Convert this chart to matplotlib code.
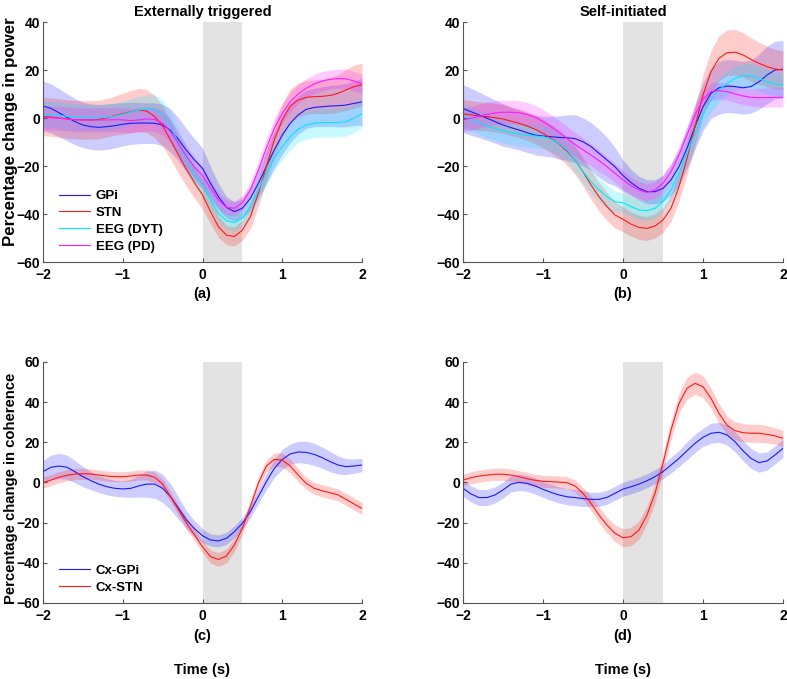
import numpy as np
import matplotlib
matplotlib.use("Agg")
import matplotlib.pyplot as plt

plt.rcParams["font.family"] = ["Liberation Sans", "DejaVu Sans"]
plt.rcParams["font.weight"] = "bold"

# time grid shared by all series (s), 0.1 s steps from -2 to 2
t = np.linspace(-2.0, 2.0, 41)

# (a) externally triggered, power: mean and half-width of shaded band
a_gpi = [5.0, 4.0, 2.2, 0.3, -1.5, -2.9, -3.6, -3.9, -3.6, -3.2, -2.6, -2.2, -2.1, -2.1, -2.2, -2.9,
         -5.2, -9.0, -13.5, -17.5, -21.0, -27.2, -32.8, -37.2, -39.0, -37.6, -33.5, -27.2, -20.3, -13.3,
         -7.1, -2.2, 1.3, 3.6, 4.4, 4.7, 5.0, 5.1, 5.4, 6.1, 6.7]
a_gpi_hw = [10.4, 10.2, 10, 9.8, 9.6, 9.5, 9.5, 9.5, 9.5, 9.3, 9, 8.8, 8.6, 8.5, 8.5, 8.7,
            9, 9, 9, 8.8, 8.5, 7, 5.5, 4.5, 4, 4.2, 5, 6, 7, 7.5, 8, 8, 8, 8, 8, 8.3,
            8.5, 8.8, 9, 9.3, 9.7]
a_stn = [0.6, 0.4, 0.0, -0.4, -0.7, -0.8, -0.8, -0.6, 0.1, 1.0, 1.8, 2.6, 3.3, 2.9, 0.6, -3.3,
         -9.2, -15.5, -21.5, -27.0, -32.0, -39.0, -45.3, -48.8, -49.4, -46.7, -41.1, -31.4, -20.3, -9.2,
         -0.8, 5.0, 7.5, 8.6, 8.9, 9.0, 9.4, 10.3, 11.7, 13.1, 13.8]
a_stn_hw = [8, 8, 8, 8, 8, 8, 8, 8, 8, 8.2, 8.5, 8.8, 9, 9, 8.8, 8.5,
            8, 7.5, 7, 6.5, 6, 5, 4.5, 4, 4, 4.2, 5, 5.5, 6, 6.5, 7, 7, 7, 7, 7, 7.2,
            7.5, 8, 8.5, 9, 9]
a_dyt = [1.5, 1.4, 1.1, 0.7, 0.4, 0.3, 0.1, 0.1, 0.3, 0.8, 1.5, 2.5, 3.3, 3.8, 3.6, 1.5,
         -3.6, -10.6, -17.5, -23.5, -28.0, -34.2, -39.7, -42.8, -43.6, -41.8, -36.9, -30.0, -23.0, -16.8,
         -11.9, -7.8, -4.7, -2.9, -2.2, -1.9, -1.9, -1.9, -1.5, -0.1, 1.9]
a_dyt_hw = [5.5, 5.5, 5.5, 5.5, 5.5, 5.5, 5.5, 5.5, 5.5, 5.5, 5.5, 5.5, 5.8, 6, 6, 6,
            6, 5.8, 5.5, 5, 4.5, 4, 3.5, 3.5, 3.5, 3.5, 4, 4.5, 5, 5, 5.5, 5.5, 5.5, 5.8, 6, 6,
            6, 6, 6, 6, 6]
a_pd = [0.3, 0.1, -0.1, -0.4, -0.7, -0.8, -0.8, -0.8, -0.8, -0.7, -0.8, -1.1, -0.8, -0.4, -0.6, -2.2,
        -5.7, -10.8, -16.1, -20.5, -24.0, -29.3, -34.2, -37.2, -37.6, -35.3, -30.0, -21.7, -12.6, -4.3,
        1.9, 6.8, 10.0, 12.4, 14.2, 15.4, 16.1, 16.4, 16.3, 15.4, 14.2]
a_pd_hw = [5, 5, 5, 5, 5, 5, 5, 5, 5, 5, 5, 5, 5, 5, 5, 5,
           5, 4.8, 4.5, 4.2, 4, 3.5, 3.2, 3, 3, 3, 3.2, 3.5, 3.8, 4, 4, 4, 4, 4, 4, 4,
           4, 4, 4, 4, 4]

# (b) self-initiated, power
b_gpi = [4.0, 2.6, 1.3, -0.1, -1.5, -2.9, -4.0, -5.0, -6.1, -7.1, -7.5, -7.8, -8.1, -8.2, -8.6, -9.9,
         -11.9, -14.7, -17.5, -20.3, -24.0, -26.9, -29.3, -30.7, -30.7, -29.3, -25.8, -20.3, -12.6, -3.6,
         4.7, 10.3, 12.6, 13.3, 13.1, 12.6, 13.1, 15.1, 17.9, 20.0, 20.3]
b_gpi_hw = [10, 9.8, 9.5, 9.2, 9, 8.8, 8.5, 8.3, 8.2, 8.2, 8.3, 8.5, 9, 9.5, 10, 10,
            10, 10, 9.5, 8, 6.5, 5.5, 5, 5, 5, 5.5, 6.5, 7.5, 8.5, 9.5, 10, 10.5, 11, 11, 11, 11,
            11, 11.5, 12, 12, 12]
b_stn = [1.7, 1.3, 0.8, 0.6, 0.1, -0.4, -1.3, -2.2, -3.3, -4.7, -6.4, -8.5, -10.8, -13.8, -17.5, -22.4,
         -27.9, -32.8, -36.9, -40.4, -42.2, -44.2, -45.6, -46.0, -45.0, -42.5, -37.6, -28.6, -16.8, -3.6,
         9.6, 19.3, 24.9, 27.2, 27.4, 26.3, 24.4, 22.8, 21.4, 20.4, 20.0]
b_stn_hw = [6, 6, 6, 6, 6, 6, 6, 6, 6, 6, 6, 6, 6, 6, 6, 6,
            6, 6, 5.8, 5.5, 5.2, 5, 5, 5, 5, 5.2, 5.5, 6, 7, 8, 8.5, 9, 9.3, 9.5, 9.5, 9.3,
            9, 8.8, 8.5, 8.2, 8]
b_dyt = [0.6, -0.6, -1.8, -3.2, -4.3, -5.3, -6.1, -6.7, -7.1, -7.5, -7.8, -8.8, -10.6, -13.3, -17.5, -22.4,
         -26.5, -30.0, -32.8, -34.9, -35.3, -36.9, -38.3, -38.6, -37.6, -34.9, -30.0, -23.0, -14.7, -6.4,
         1.3, 7.5, 11.7, 14.4, 16.5, 17.6, 17.5, 16.5, 15.1, 14.2, 13.8]
b_dyt_hw = [5, 5, 5, 5, 5, 5, 5, 5, 5, 5, 5, 5, 5, 5, 5, 5,
            5, 5, 4.8, 4.5, 4.2, 4, 4, 4, 4, 4.2, 4.5, 4.8, 5, 5, 5, 5, 5, 5, 5, 5,
            5, 5, 5, 5, 5]
b_pd = [-0.8, -0.1, 0.7, 1.5, 2.1, 2.4, 2.4, 2.2, 1.5, 0.3, -1.5, -3.6, -6.0, -8.5, -11.0, -13.3,
        -15.4, -17.8, -20.3, -23.0, -25.8, -28.2, -30.0, -31.0, -30.0, -27.2, -22.4, -15.4, -7.1, 1.3,
        7.8, 11.0, 11.4, 11.0, 10.0, 9.2, 8.6, 8.5, 8.5, 8.6, 8.6]
b_pd_hw = [5, 5, 5, 5, 5, 5, 5, 5, 5, 5, 5, 5, 5, 5, 5, 5,
           4.5, 4.5, 4, 4, 4, 3.5, 3.5, 3.5, 3.5, 3.5, 3.5, 3.5, 3.5, 3.5, 3.5, 3.5, 3.5, 3.5, 3.5, 3.5,
           3.5, 3.8, 4, 4, 4]

# (c) externally triggered, coherence
c_gpi = [5.4, 7.6, 8.2, 7.6, 5.4, 2.9, 0.9, -0.8, -2.1, -2.9, -3.2, -2.9, -1.7, -0.8, -0.8, -2.9,
         -7.1, -12.9, -18.7, -23.0, -26.5, -28.6, -29.1, -27.8, -24.5, -20.3, -14.5, -7.0, 0.4, 7.0,
         11.5, 14.2, 15.2, 15.0, 14.0, 12.4, 10.4, 8.7, 7.9, 8.2, 8.7]
c_gpi_hw = [5.5, 6, 6.3, 6, 5.5, 5, 4.5, 4.2, 4, 4, 4, 4.5, 5.5, 6.5, 7, 7,
            6.5, 5.5, 4.5, 4, 3.5, 3, 3, 3, 3, 3, 3, 3.5, 4, 4.5, 5, 5, 5.3, 5.5, 5.5, 5.3,
            5, 4.5, 4, 3.5, 3.3]
c_stn = [-0.1, 1.2, 2.6, 3.6, 4.2, 4.4, 4.2, 3.7, 3.2, 2.9, 2.9, 3.2, 3.7, 3.7, 2.6, -0.8,
         -7.1, -13.7, -20.3, -26.1, -32.0, -36.9, -38.3, -36.6, -31.1, -22.8, -12.0, -0.4, 8.2, 11.5,
         11.2, 8.2, 3.7, -0.4, -2.9, -4.1, -5.1, -6.2, -8.4, -10.7, -12.9]
c_stn_hw = [2.8, 2.8, 2.8, 2.8, 2.8, 2.8, 2.5, 2.5, 2.5, 2.5, 2.5, 2.5, 2.5, 2.5, 2.5, 2.5,
            2.5, 2.5, 2.8, 3, 3, 3.2, 3.5, 3.5, 3.2, 3, 3, 3, 3, 3.2, 3.5, 3.5, 3.3, 3, 3, 3,
            3, 3, 3, 3, 3]

# (d) self-initiated, coherence
d_gpi = [-2.9, -5.7, -7.5, -7.5, -6.2, -3.7, -0.8, 0.1, -0.4, -1.7, -3.4, -4.9, -6.2, -7.1, -7.5, -8.0,
         -8.4, -8.4, -7.4, -5.4, -3.3, -2.1, -0.8, 0.9, 2.9, 5.4, 8.7, 12.0, 15.8, 19.5,
         22.5, 24.5, 25.0, 23.7, 20.3, 15.8, 12.0, 9.9, 10.7, 13.7, 17.0]
d_gpi_hw = [4, 4, 4, 4, 4, 4, 4, 4, 4, 4, 4, 4, 4, 4, 4, 4,
            3.5, 3.5, 3.5, 3.5, 3.5, 3.5, 3.5, 3.5, 3.5, 3.5, 4, 4, 4.5, 4.5, 4.5, 5, 5, 5, 5, 5,
            5, 4.8, 4.5, 4.5, 4.5]
d_stn = [1.2, 2.4, 3.2, 3.7, 4.1, 4.1, 3.7, 2.9, 1.9, 1.1, 0.6, 0.4, 0.2, -0.1, -1.7, -5.4,
         -10.4, -16.2, -21.2, -25.3, -27.5, -27.0, -23.7, -16.2, -5.4, 9.5, 26.1, 39.4, 46.9, 49.4,
         47.7, 41.9, 34.4, 28.6, 25.8, 24.8, 24.5, 24.5, 24.0, 23.2, 22.0]
d_stn_hw = [3, 3, 3, 3, 3, 3, 3, 3, 3, 3, 3, 3, 3, 3, 3, 3,
            3.5, 4, 4, 4.2, 4.5, 4.5, 4.5, 4.5, 4.5, 4.5, 4.5, 5, 5.5, 5.5, 5.5, 5, 5, 4.5, 4.5, 4.5,
            4.5, 4.5, 4.3, 4, 4]

BLUE, RED, CYAN, MAG = "#1a1aff", "#ff1a1a", "#00e8ff", "#ff1aff"
AXCOL = "#555555"


def style_axes(ax, ylim, yticks):
    ax.axvspan(0, 0.5, color="#e3e3e3", zorder=0, lw=0)
    ax.set_xlim(-2, 2)
    ax.set_ylim(*ylim)
    ax.set_xticks([-2, -1, 0, 1, 2])
    ax.set_yticks(yticks)
    for s in ("top", "right"):
        ax.spines[s].set_visible(False)
    for s in ("left", "bottom"):
        ax.spines[s].set_color(AXCOL)
        ax.spines[s].set_linewidth(0.8)
    ax.tick_params(direction="in", length=3, width=0.8, color=AXCOL,
                   labelsize=10, pad=2)
    ax.tick_params(axis="x", pad=4)
    for lab in ax.get_xticklabels() + ax.get_yticklabels():
        lab.set_fontweight("bold")


def band(ax, mean, hw, color, label=None):
    mean = np.array(mean)
    hw = np.array(hw)
    ax.fill_between(t, mean - hw, mean + hw, color=color, alpha=0.22, lw=0)
    ax.plot(t, mean, color=color, lw=0.8, label=label)


fig = plt.figure(figsize=(7.87, 6.79), dpi=100)
W, H = 787, 679


def add_ax(x0, x1, y0, y1):
    return fig.add_axes([x0 / W, 1 - y1 / H, (x1 - x0) / W, (y1 - y0) / H])


ax_a = add_ax(43, 362, 22, 262)
ax_b = add_ax(463, 783, 22, 262)
ax_c = add_ax(43, 362, 362, 603)
ax_d = add_ax(463, 783, 362, 603)

for ax, (g, gh, s, sh, dy, dyh, pd, pdh) in (
        (ax_a, (a_gpi, a_gpi_hw, a_stn, a_stn_hw, a_dyt, a_dyt_hw, a_pd, a_pd_hw)),
        (ax_b, (b_gpi, b_gpi_hw, b_stn, b_stn_hw, b_dyt, b_dyt_hw, b_pd, b_pd_hw))):
    style_axes(ax, (-60, 40), [-60, -40, -20, 0, 20, 40])
    band(ax, g, gh, BLUE, "GPi")
    band(ax, s, sh, RED, "STN")
    band(ax, dy, dyh, CYAN, "EEG (DYT)")
    band(ax, pd, pdh, MAG, "EEG (PD)")

for ax, (g, gh, s, sh) in ((ax_c, (c_gpi, c_gpi_hw, c_stn, c_stn_hw)),
                           (ax_d, (d_gpi, d_gpi_hw, d_stn, d_stn_hw))):
    style_axes(ax, (-60, 60), [-60, -40, -20, 0, 20, 40, 60])
    band(ax, g, gh, BLUE, "Cx-GPi")
    band(ax, s, sh, RED, "Cx-STN")

for ax in (ax_a, ax_c):
    leg = ax.legend(loc="lower left", frameon=False, fontsize=9.5,
                    handlelength=2.4, handletextpad=0.4, labelspacing=0.35,
                    borderaxespad=0.3, bbox_to_anchor=(0.02, 0.0))
    for txt in leg.get_texts():
        txt.set_fontweight("bold")

fig.text(11 / W, 1 - 132 / H, "Percentage change in power", rotation=90,
         ha="center", va="center", fontsize=12.2, fontweight="bold")
fig.text(11 / W, 1 - 488 / H, "Percentage change in coherence", rotation=90,
         ha="center", va="center", fontsize=10.7, fontweight="bold")

ax_a.set_title("Externally triggered", fontsize=10.5, fontweight="bold", pad=4)
ax_b.set_title("Self-initiated", fontsize=10.5, fontweight="bold", pad=4)

for ax, lab in ((ax_a, "(a)"), (ax_b, "(b)"), (ax_c, "(c)"), (ax_d, "(d)")):
    ax.text(0.5, -0.135, lab, transform=ax.transAxes, ha="center", va="center",
            fontsize=10.5, fontweight="bold")

for ax in (ax_c, ax_d):
    ax.text(0.5, -0.28, "Time (s)", transform=ax.transAxes, ha="center",
            va="center", fontsize=10.5, fontweight="bold")

fig.savefig("out.png", dpi=100)
